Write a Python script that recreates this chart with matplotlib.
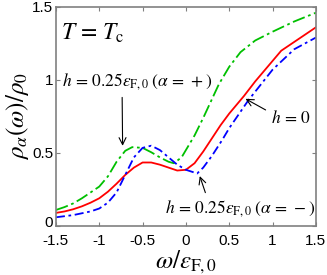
import numpy as np
import matplotlib.pyplot as plt
import matplotlib.transforms as mtransforms

plt.rcParams['font.family'] = ['Liberation Sans', 'DejaVu Sans']
plt.rcParams['mathtext.fontset'] = 'stix'

# omega / eps_F0 and rho_alpha / rho_0
w_red = [-1.5, -1.4, -1.3, -1.2, -1.1, -1.0, -0.9, -0.8, -0.7, -0.6, -0.5,
         -0.4, -0.3, -0.2, -0.1, 0.0, 0.1, 0.2, 0.3, 0.4, 0.5, 0.67, 0.8,
         1.0, 1.1, 1.25, 1.5]
rho_red = [0.09, 0.10, 0.115, 0.135, 0.16, 0.19, 0.235, 0.29, 0.35, 0.40, 0.435,
           0.435, 0.42, 0.40, 0.38, 0.385, 0.43, 0.51, 0.60, 0.69, 0.77, 0.89, 0.99,
           1.13, 1.20, 1.26, 1.36]

w_green = [-1.5, -1.4, -1.3, -1.2, -1.1, -1.0, -0.9, -0.8, -0.7, -0.62, -0.5,
           -0.4, -0.3, -0.2, -0.14, -0.05, 0.0, 0.1, 0.2, 0.38, 0.5, 0.63,
           0.8, 1.0, 1.25, 1.5]
rho_green = [0.11, 0.13, 0.155, 0.19, 0.23, 0.27, 0.34, 0.44, 0.515, 0.54, 0.535,
             0.505, 0.47, 0.44, 0.43, 0.47, 0.52, 0.62, 0.74, 0.97, 1.09, 1.19,
             1.27, 1.33, 1.40, 1.46]

w_blue = [-1.5, -1.3, -1.1, -1.0, -0.9, -0.8, -0.7, -0.6, -0.5, -0.4, -0.3,
          -0.2, -0.1, 0.0, 0.13, 0.2, 0.3, 0.42, 0.5, 0.72, 1.0, 1.25, 1.5]
rho_blue = [0.06, 0.075, 0.10, 0.12, 0.16, 0.23, 0.35, 0.47, 0.535, 0.55, 0.52,
            0.47, 0.42, 0.385, 0.36, 0.40, 0.48, 0.59, 0.67, 0.86, 1.07, 1.21, 1.29]

fig = plt.figure(figsize=(3.27, 2.75), dpi=100)
ax = fig.add_axes([0.171, 0.178, 0.795, 0.797])

ax.plot(w_green, rho_green, color='#00c000', lw=1.3, dashes=(7, 2, 1.5, 2))
ax.plot(w_red, rho_red, color='red', lw=1.3)
ax.plot(w_blue, rho_blue, color='blue', lw=1.3, dashes=(5, 2, 1.5, 2))

ax.axis([-1.5, 1.5, 0, 1.5])
ax.set_xticks([-1.5, -1, -0.5, 0, 0.5, 1, 1.5])
ax.set_xticklabels(['-1.5', '-1', '-0.5', '0', '0.5', '1', '1.5'])
ax.set_yticks([0, 0.5, 1, 1.5])
ax.set_yticklabels(['0', '0.5', '1', '1.5'])
ax.tick_params(direction='in', top=True, right=True, length=3,
               labelsize=11, color='gray')
ax.tick_params(axis='x', pad=6)
ax.tick_params(axis='y', pad=2)
for s in ax.spines.values():
    s.set_color('gray')
    s.set_linewidth(1.2)

# lift the y "0" a little so it clears the "-1.5" below it
lbl0 = ax.get_yticklabels()[0]
lbl0.set_transform(lbl0.get_transform() +
                   mtransforms.ScaledTranslation(0, 3 / 72, fig.dpi_scale_trans))

ax.set_xlabel(r'$\omega/\varepsilon_{\mathrm{F},0}$', fontsize=18, labelpad=0)
ax.set_ylabel(r'$\rho_\alpha(\omega)/\rho_0$', fontsize=18, labelpad=1)

ax.text(-1.44, 1.32, r'$T\,=\,T_{\mathrm{c}}$', fontsize=17, va='center')

ax.annotate(r'$h\,=\,0.25\varepsilon_{\mathrm{F},0}\;(\alpha\,=\,+)$',
            xy=(-0.73, 0.53), xytext=(-1.43, 0.99), fontsize=12.5, va='center',
            arrowprops=dict(arrowstyle='->', color='black', lw=0.8,
                            relpos=(0.4, 0.0)))
ax.annotate(r'$h\,=\,0$', xy=(0.66, 0.88), xytext=(0.98, 0.74), fontsize=12.5,
            va='center',
            arrowprops=dict(arrowstyle='->', color='black', lw=0.8,
                            relpos=(0.0, 0.8)))
ax.annotate(r'$h\,=\,0.25\varepsilon_{\mathrm{F},0}\;(\alpha\,=\,-)$',
            xy=(0.15, 0.36), xytext=(-0.24, 0.12), fontsize=12.5, va='center',
            arrowprops=dict(arrowstyle='->', color='black', lw=0.8,
                            relpos=(0.28, 1.0)))

fig.savefig('out.png', dpi=100)
